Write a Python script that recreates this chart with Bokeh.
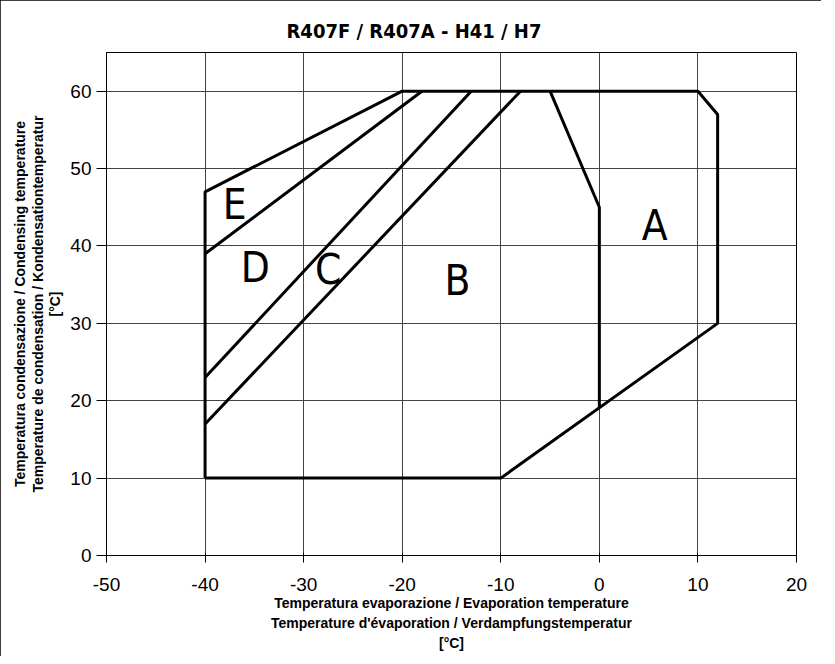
from bokeh.plotting import figure
from bokeh.models import Range1d, FixedTicker, PrintfTickFormatter
from bokeh.core.properties import value
from bokeh.embed import file_html
from bokeh.resources import INLINE

# envelope (outer boundary)
env_x = [-40, -10, 12, 12, 10, -20, -40, -40]
env_y = [10, 10, 30, 57, 60, 60, 47, 10]
# zone boundaries
ab_x = [-5, 0, 0]
ab_y = [60, 45, 19.1]
bc_x = [-40, -8]
bc_y = [17, 60]
cd_x = [-40, -13]
cd_y = [23, 60]
de_x = [-40, -18]
de_y = [39, 60]
# zone labels
zone_names = ["A", "B", "C", "D", "E"]
zone_x = [5.6, -14.4, -27.5, -34.9, -37.0]
zone_y = [42.7, 35.5, 36.9, 37.2, 45.3]

x_ticks = [-50, -40, -30, -20, -10, 0, 10, 20]
y_ticks = [0, 10, 20, 30, 40, 50, 60]

NARROW = "DejaVu Sans Condensed"

p = figure(width=821, height=656, output_backend="svg", toolbar_location=None,
           x_range=Range1d(-50, 20), y_range=Range1d(0, 65),
           min_border_left=106, min_border_right=25, min_border_top=52, min_border_bottom=101)
p.styles = {"outline": "1px solid black", "outline-offset": "-1px"}

p.title.text = "R407F / R407A - H41 / H7"
p.title.align = "left"
p.title.offset = 180
p.title.text_font = NARROW
p.title.text_font_size = "20px"
p.title.text_font_style = "bold"
p.title.text_color = "black"
p.title.standoff = 19

p.outline_line_color = "black"
p.outline_line_width = 1
p.outline_line_alpha = 1

for ax in (p.xaxis, p.yaxis):
    ax.axis_line_color = "black"
    ax.major_tick_line_color = "black"
    ax.minor_tick_line_color = None
    ax.major_label_text_font = "Liberation Sans"
    ax.major_label_text_font_size = "19px"
    ax.major_label_text_color = "black"
    ax.axis_label_text_font = "Liberation Sans"
    ax.axis_label_text_font_size = "14px"
    ax.axis_label_text_font_style = "bold"
    ax.axis_label_text_color = "black"
    ax.formatter = PrintfTickFormatter(format="%d")

p.xaxis.major_tick_out = 7
p.xaxis.major_tick_in = 3
p.yaxis.major_tick_out = 10
p.yaxis.major_tick_in = 0

p.xaxis.ticker = FixedTicker(ticks=x_ticks)
p.yaxis.ticker = FixedTicker(ticks=y_ticks)
p.xaxis.major_label_standoff = 15
p.yaxis.major_label_standoff = 5
p.xaxis.axis_label = ("Temperatura evaporazione / Evaporation temperature\n"
                      "Temperature d'évaporation / Verdampfungstemperatur\n[°C]")
p.yaxis.axis_label = ("Temperatura condensazione / Condensing temperature\n"
                      "Temperature de condensation / Kondensationtemperatur\n[°C]")
p.xaxis.axis_label_text_line_height = 1.25
p.yaxis.axis_label_text_line_height = 1.1
p.xaxis.axis_label_standoff = 1
p.yaxis.axis_label_standoff = 4

p.xgrid.ticker = FixedTicker(ticks=x_ticks)
p.ygrid.ticker = FixedTicker(ticks=y_ticks)
for g in (p.xgrid, p.ygrid):
    g.grid_line_color = "#444444"
    g.grid_line_width = 1
    g.grid_line_alpha = 1

p.line(env_x, env_y, line_color="black", line_width=3)
for xs, ys in ((ab_x, ab_y), (bc_x, bc_y), (cd_x, cd_y), (de_x, de_y)):
    p.line(xs, ys, line_color="black", line_width=3)

p.text(x=zone_x, y=zone_y, text=zone_names, text_font=value(NARROW),
       text_font_size="42px", text_align="center", text_baseline="middle",
       text_color="black")

open("out.html", "w").write(file_html(p, INLINE))
